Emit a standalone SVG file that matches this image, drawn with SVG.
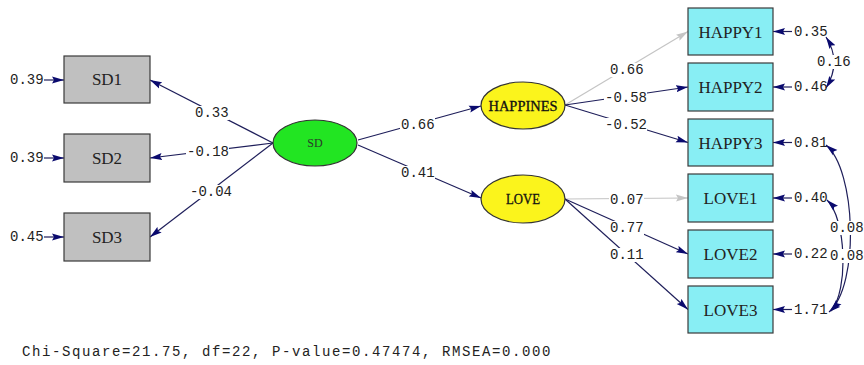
<svg xmlns="http://www.w3.org/2000/svg" width="864" height="365" viewBox="0 0 864 365">
<defs>
<marker id="ah" viewBox="0 0 12 8" refX="12" refY="4" markerWidth="12" markerHeight="8" markerUnits="userSpaceOnUse" orient="auto-start-reverse">
<path d="M0,0.5 L12,4 L0,7.5 L2,4 z" fill="#0a0a6e"/>
</marker>
<marker id="ahg" viewBox="0 0 12 8" refX="12" refY="4" markerWidth="12" markerHeight="8" markerUnits="userSpaceOnUse" orient="auto">
<path d="M0,0.5 L12,4 L0,7.5 L2,4 z" fill="#c4c4c4"/>
</marker>
</defs>
<style>
.e{stroke:#1e1e5a;stroke-width:1.2;fill:none;marker-end:url(#ah)}
.g{stroke:#c4c4c4;stroke-width:1.2;fill:none;marker-end:url(#ahg)}
.c{stroke:#1e1e5a;stroke-width:1.2;fill:none;marker-start:url(#ah);marker-end:url(#ah)}
.n{font-family:"Liberation Mono",monospace;font-size:14px;fill:#222}
.lb{fill:#fff}
.bx{fill:#c0c0c0;stroke:#3a3a3a;stroke-width:1.2}
.cy{fill:#88eef4;stroke:#3a3a3a;stroke-width:1.2}
.bt{font-family:"Liberation Serif",serif;font-size:17px;fill:#222;text-anchor:middle}
.lt{font-family:"Liberation Serif",serif;font-size:14px;fill:#111;stroke:#111;stroke-width:0.3;text-anchor:middle}
</style>
<rect width="864" height="365" fill="#fff"/>
<g id="connectors">
<line class="e" x1="44" y1="80" x2="64" y2="80"/>
<line class="e" x1="44" y1="158" x2="64" y2="158"/>
<line class="e" x1="44" y1="237" x2="64" y2="237"/>
<line class="e" x1="273" y1="143" x2="150" y2="80"/>
<line class="e" x1="273" y1="143" x2="150" y2="158"/>
<line class="e" x1="273" y1="143" x2="150" y2="237"/>
<line class="e" x1="358" y1="140" x2="481" y2="106"/>
<line class="e" x1="358" y1="145" x2="481" y2="198"/>
<line class="g" x1="565" y1="105" x2="688" y2="31.5"/>
<line class="e" x1="565" y1="105" x2="688" y2="87"/>
<line class="e" x1="565" y1="105" x2="688" y2="142.5"/>
<line class="g" x1="565" y1="199" x2="688" y2="198"/>
<line class="e" x1="565" y1="199" x2="688" y2="254"/>
<line class="e" x1="565" y1="199" x2="688" y2="309.5"/>
<line class="e" x1="792" y1="31.5" x2="773" y2="31.5"/>
<line class="e" x1="792" y1="87" x2="773" y2="87"/>
<line class="e" x1="792" y1="142.5" x2="773" y2="142.5"/>
<line class="e" x1="792" y1="198" x2="773" y2="198"/>
<line class="e" x1="792" y1="254" x2="773" y2="254"/>
<line class="e" x1="792" y1="309.5" x2="773" y2="309.5"/>
<path class="c" d="M826,37 Q842,62 826,88"/>
<path class="c" d="M826,145 C856,170 860,285 829,312"/>
<path class="c" d="M827,200 C846,218 849,290 831,311"/>
<rect class="lb" x="194" y="106" width="35" height="14"/><text class="n" x="195" y="117">0.33</text>
<rect class="lb" x="186" y="145" width="43" height="14"/><text class="n" x="187" y="156">-0.18</text>
<rect class="lb" x="189" y="185" width="43" height="14"/><text class="n" x="190" y="196">-0.04</text>
<rect class="lb" x="400" y="118" width="35" height="14"/><text class="n" x="401" y="129">0.66</text>
<rect class="lb" x="400" y="166" width="35" height="14"/><text class="n" x="401" y="177">0.41</text>
<rect class="lb" x="609" y="63" width="35" height="14"/><text class="n" x="610" y="74">0.66</text>
<rect class="lb" x="604" y="91" width="43" height="14"/><text class="n" x="605" y="102">-0.58</text>
<rect class="lb" x="604" y="118" width="43" height="14"/><text class="n" x="605" y="129">-0.52</text>
<rect class="lb" x="609" y="193" width="35" height="14"/><text class="n" x="610" y="204">0.07</text>
<rect class="lb" x="609" y="221" width="35" height="14"/><text class="n" x="610" y="232">0.77</text>
<rect class="lb" x="609" y="248" width="35" height="14"/><text class="n" x="610" y="259">0.11</text>
<rect class="lb" x="816" y="55" width="35" height="14"/><text class="n" x="817" y="66">0.16</text>
<rect class="lb" x="829" y="221" width="35" height="14"/><text class="n" x="830" y="232">0.08</text>
<rect class="lb" x="830" y="249" width="34" height="14"/><text class="n" x="830" y="260">0.08</text>
<text class="n" x="10" y="84">0.39</text>
<text class="n" x="10" y="162">0.39</text>
<text class="n" x="10" y="241">0.45</text>
<text class="n" x="794" y="36">0.35</text>
<text class="n" x="794" y="91">0.46</text>
<text class="n" x="794" y="147">0.81</text>
<text class="n" x="794" y="202">0.40</text>
<text class="n" x="794" y="258">0.22</text>
<text class="n" x="794" y="314">1.71</text>
</g>
<g id="SD1"><rect class="bx" x="64" y="56" width="86" height="47"/><text class="bt" x="107" y="85">SD1</text></g>
<g id="SD2"><rect class="bx" x="64" y="134" width="86" height="48"/><text class="bt" x="107" y="164">SD2</text></g>
<g id="SD3"><rect class="bx" x="64" y="213" width="86" height="48"/><text class="bt" x="107" y="243">SD3</text></g>
<g id="SD"><ellipse cx="315" cy="143" rx="42" ry="23" fill="#22e522" stroke="#333" stroke-width="1.2"/><text x="315" y="147" font-family="Liberation Serif,serif" font-size="12" fill="#2a3a2a" text-anchor="middle">SD</text></g>
<g id="HAPPINES"><ellipse cx="523" cy="105.5" rx="42" ry="23.5" fill="#fbf41c" stroke="#333" stroke-width="1.2"/><text class="lt" x="523" y="110.5" textLength="69" lengthAdjust="spacingAndGlyphs">HAPPINES</text></g>
<g id="LOVE"><ellipse cx="523" cy="199" rx="42" ry="24" fill="#fbf41c" stroke="#333" stroke-width="1.2"/><text class="lt" x="523" y="204" textLength="34" lengthAdjust="spacingAndGlyphs">LOVE</text></g>
<g id="HAPPY1"><rect class="cy" x="688" y="8" width="85" height="47"/><text class="bt" x="730.5" y="37.5">HAPPY1</text></g>
<g id="HAPPY2"><rect class="cy" x="688" y="63" width="85" height="48"/><text class="bt" x="730.5" y="93">HAPPY2</text></g>
<g id="HAPPY3"><rect class="cy" x="688" y="119" width="85" height="47"/><text class="bt" x="730.5" y="148.5">HAPPY3</text></g>
<g id="LOVE1"><rect class="cy" x="688" y="174" width="85" height="48"/><text class="bt" x="730.5" y="204">LOVE1</text></g>
<g id="LOVE2"><rect class="cy" x="688" y="230" width="85" height="48"/><text class="bt" x="730.5" y="260">LOVE2</text></g>
<g id="LOVE3"><rect class="cy" x="688" y="286" width="85" height="47"/><text class="bt" x="730.5" y="315.5">LOVE3</text></g>
<text x="22" y="356" font-family="Liberation Mono,monospace" font-size="14" letter-spacing="1.6" fill="#222">Chi-Square=21.75, df=22, P-value=0.47474, RMSEA=0.000</text>
</svg>
